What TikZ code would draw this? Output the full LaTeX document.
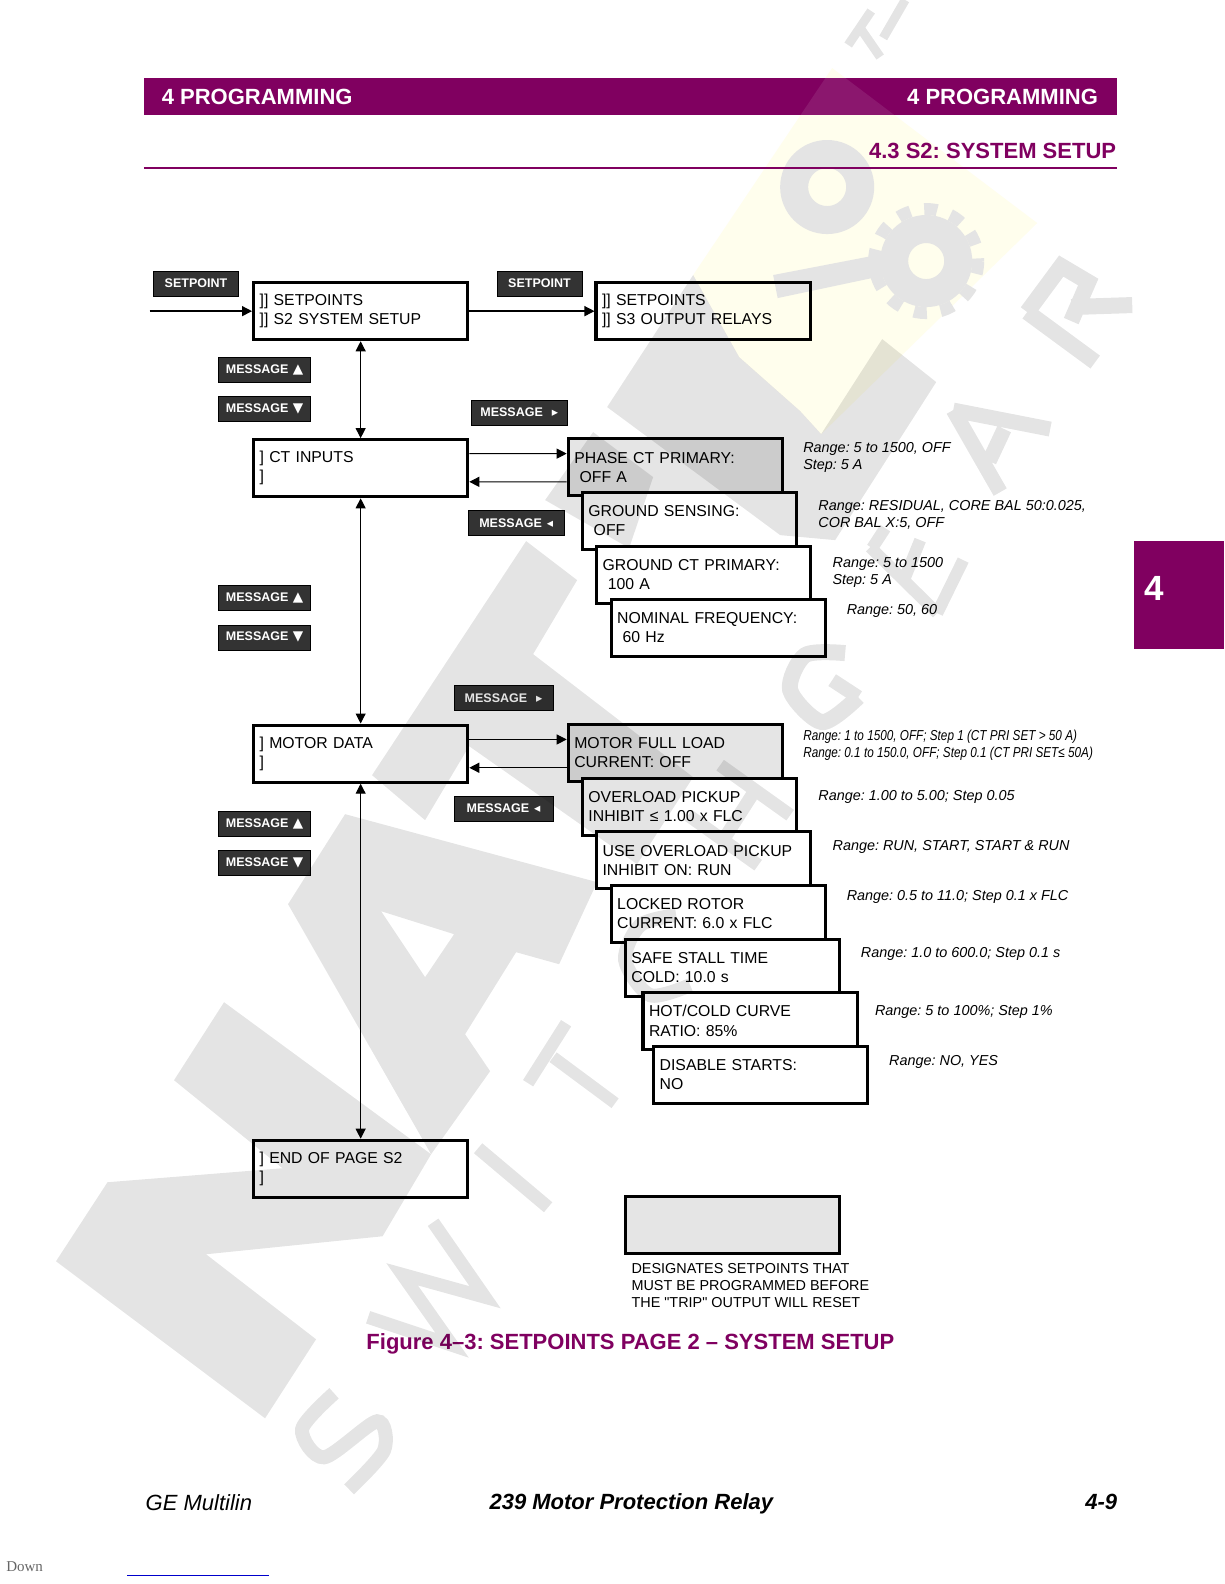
\documentclass[tikz,border=0pt]{standalone}
\usepackage{fontspec}
\setmainfont{Liberation Sans}
\newfontfamily\symfont{DejaVu Sans}
\newfontfamily\narrowfont[FakeStretch=0.815]{Liberation Sans}
\newfontfamily\downfont{Liberation Serif}
\usepackage{xcolor}
\usetikzlibrary{arrows.meta}
\frenchspacing
\definecolor{gepurple}{HTML}{800060}
\definecolor{btngray}{HTML}{333333}
\definecolor{wmgray}{HTML}{E4E4E4}
\tikzset{
    lcdbox/.style={rectangle, draw=black, line width=3.2pt, fill=white, minimum width=214pt, minimum height=57pt, inner sep=0pt, text width=202pt, align=left, font=\fontsize{15.8}{19.2}\selectfont},
    lcdgray/.style={lcdbox, fill=gray!20},
    keybtn/.style={rectangle, draw=black, line width=0.6pt, fill=btngray, text=white, minimum height=25pt, inner sep=0pt, font=\fontsize{12.5}{14}\selectfont\bfseries},
    rangetext/.style={anchor=west, inner sep=0pt, align=left, font=\fontsize{14.4}{17.2}\selectfont\itshape},
    arrow/.style={line width=1pt, {Triangle[length=10pt,width=10pt]}-{Triangle[length=10pt,width=10pt]}},
    oneway/.style={line width=1.3pt, -{Triangle[length=10pt,width=10pt]}},
    headtext/.style={inner sep=0pt, text=white, font=\fontsize{22}{26}\selectfont\bfseries},
    foottext/.style={inner sep=0pt, font=\fontsize{22}{26}\selectfont\bfseries\itshape},
    wmstroke/.style={draw=black, line width=14pt, fill=none}
}
\newcommand{\keyup}{MESSAGE\hspace{4.5pt}{\symfont\fontsize{13.5}{14}\selectfont ▲}}
\newcommand{\keydn}{MESSAGE\hspace{4.5pt}{\symfont\fontsize{13.5}{14}\selectfont ▼}}
\newcommand{\keyrt}{MESSAGE\hspace{9pt}{\symfont ▸}\hspace{7pt}}
\newcommand{\keylf}{MESSAGE\hspace{5pt}{\symfont ◂}\hspace{12pt}}
\begin{document}
\begin{tikzpicture}[x=1.01pt, y=-1.01pt]
    \useasboundingbox (0,0) rectangle (1212,1568);
    \fill[white] (0,0) rectangle (1212,1568);

    % watermark under the page, full size pixel coordinates
    \begin{scope}[scale=0.9901]
        \fill[yellow, opacity=0.07] (832,68) -- (1037,223) -- (821,434) -- (800,411) -- (739,357) -- (693,275) -- cycle;
        \draw[wmgray, line width=28pt] (827,187) circle (33);
        \draw[wmgray, line width=28pt] (926,261) circle (32);
        \draw[wmgray, line width=12pt, dash pattern=on 13pt off 14pt] (926,261) circle (52);
        \fill[wmgray] (773,275) -- (882,254) -- (886,275) -- (777.5,298) -- cycle;
    \end{scope}

    % page header and footer
    \fill[gepurple] (142.5,77) rectangle (1106,114);
    \begin{scope}[scale=0.9901]
        \clip (700,78) rectangle (900,115);
        \fill[white, opacity=0.09] (832,68) -- (1037,223) -- (693,275) -- cycle;
    \end{scope}
    \fill[gepurple] (1123,536) rectangle (1212,642);
    \draw[gepurple, line width=1.8pt] (142.5,166) -- (1106,166);
    \node (headleft) [headtext, anchor=west] at (160,95.5) {4 PROGRAMMING};
    \node (headright) [headtext, anchor=east] at (1087,95.5) {4 PROGRAMMING};
    \node (section) [inner sep=0pt, anchor=east, text=gepurple, font=\fontsize{22}{26}\selectfont\bfseries] at (1105,149) {4.3 S2: SYSTEM SETUP};
    \node (tabnum) [inner sep=0pt, text=white, font=\fontsize{35}{38}\selectfont\bfseries] at (1143,583) {4};
    \node (foot1) [inner sep=0pt, anchor=west, font=\fontsize{22}{26}\selectfont\itshape] at (144,1487) {GE Multilin};
    \node (foot2) [foottext] at (625,1489) {239 Motor Protection Relay};
    \node (foot3) [foottext, anchor=east] at (1106,1487) {4-9};
    \node (down) [inner sep=0pt, anchor=west, text=black!60, font=\fontsize{15}{17}\downfont] at (6,1551) {Down};
    \draw[blue!80!black, line width=1pt] (126,1560) -- (266,1560);

    % top level
    \node (s2) [lcdbox] at (357,308) {]] SETPOINTS\\]] S2 SYSTEM SETUP};
    \node (s3) [lcdbox, fill=none] at (696,308) {]] SETPOINTS\\]] S3 OUTPUT RELAYS};
    \node (ct) [lcdbox] at (357,463.5) {] CT INPUTS\\]};
    \node (motor) [lcdbox] at (357,746) {] MOTOR DATA\\]};
    \node (endpage) [lcdbox] at (357,1157) {] END OF PAGE S2\\]};

    % CT stack
    \node (phase) [lcdgray] at (668.5,462.5) {PHASE CT PRIMARY:\\ \ OFF A};
    \node (sensing) [lcdbox] at (682.5,515.5) {GROUND SENSING:\\ \ OFF};
    \node (groundct) [lcdbox] at (696.5,569) {GROUND CT PRIMARY:\\ \ 100 A};
    \node (nominal) [lcdbox] at (711,621.5) {NOMINAL FREQUENCY:\\ \ 60 Hz};

    % motor stack
    \node (fullload) [lcdgray] at (668.5,745) {MOTOR FULL LOAD\\CURRENT: OFF};
    \node (overload) [lcdbox] at (682.5,798.5) {OVERLOAD PICKUP\\INHIBIT ≤ 1.00 x FLC};
    \node (inhibit) [lcdbox] at (696.5,851.5) {USE OVERLOAD PICKUP\\INHIBIT ON: RUN};
    \node (locked) [lcdbox] at (711,904.5) {LOCKED ROTOR\\CURRENT: 6.0 x FLC};
    \node (stall) [lcdbox] at (725,958) {SAFE STALL TIME\\COLD: 10.0 s};
    \node (curve) [lcdbox] at (742.5,1010.5) {HOT/COLD CURVE\\RATIO: 85\%};
    \node (disable) [lcdbox] at (753,1064) {DISABLE STARTS:\\NO};

    % legend
    \node (legend) [lcdgray] at (725,1213) {};
    \node (legendtext) [inner sep=0pt, anchor=west, align=left, font=\fontsize{14.4}{17.2}\selectfont] at (625,1272.5) {DESIGNATES SETPOINTS THAT\\MUST BE PROGRAMMED BEFORE\\THE \textquotedbl TRIP\textquotedbl\ OUTPUT WILL RESET};

    % keys
    \node (key1) [keybtn, minimum width=85pt] at (194,280.5) {SETPOINT};
    \node (key2) [keybtn, minimum width=85pt] at (534,280.5) {SETPOINT};
    \node (up1) [keybtn, minimum width=92pt] at (262,366.5) {\keyup};
    \node (dn1) [keybtn, minimum width=92pt] at (262,404.5) {\keydn};
    \node (rt1) [keybtn, minimum width=96pt] at (514,408.5) {\keyrt};
    \node (lf1) [keybtn, minimum width=96pt] at (511,517.5) {\keylf};
    \node (up2) [keybtn, minimum width=92pt] at (262,592) {\keyup};
    \node (dn2) [keybtn, minimum width=92pt] at (262,631) {\keydn};
    \node (rt2) [keybtn, minimum width=99pt] at (498.5,691) {\keyrt};
    \node (lf2) [keybtn, minimum width=99pt] at (498.5,800.5) {\keylf};
    \node (up3) [keybtn, minimum width=92pt] at (262,815.5) {\keyup};
    \node (dn3) [keybtn, minimum width=92pt] at (262,854.5) {\keydn};

    % connectors
    \coordinate (entry) at (148,308);
    \draw [oneway] (entry) -- (s2);
    \draw [oneway] (s2) -- (s3);
    \draw [arrow] (s2) -- (ct);
    \draw [arrow] (ct) -- (motor);
    \draw [arrow] (motor) -- (endpage);
    \draw [oneway, line width=1pt] ([yshift=14.6pt]ct.east) -- ([yshift=13.6pt]phase.west);
    \draw [oneway, line width=1pt] ([yshift=-14.6pt]phase.west) -- ([yshift=-13.6pt]ct.east);
    \draw [oneway, line width=1pt] ([yshift=14.14pt]motor.east) -- ([yshift=13.13pt]fullload.west);
    \draw [oneway] ([yshift=-15.15pt]fullload.west) -- ([yshift=-14.14pt]motor.east);

    % ranges
    \node (r1) [rangetext] at (795,453) {Range: 5 to 1500, OFF\\Step: 5 A};
    \node (r2) [rangetext] at (810,509.5) {Range: RESIDUAL, CORE BAL 50:0.025,\\COR BAL X:5, OFF};
    \node (r3) [rangetext] at (824,566.5) {Range: 5 to 1500\\Step: 5 A};
    \node (r4) [rangetext] at (838,605) {Range: 50, 60};
    \node (r5) [rangetext, font=\fontsize{14.4}{17.2}\narrowfont\itshape] at (795,737.5) {Range: 1 to 1500, OFF; Step 1 (CT PRI SET > 50 A)\\Range: 0.1 to 150.0, OFF; Step 0.1 (CT PRI SET≤ 50A)};
    \node (r6) [rangetext] at (810,789) {Range: 1.00 to 5.00; Step 0.05};
    \node (r7) [rangetext] at (824,838.5) {Range: RUN, START, START \& RUN};
    \node (r8) [rangetext] at (838,888) {Range: 0.5 to 11.0; Step 0.1 x FLC};
    \node (r9) [rangetext] at (852,944.5) {Range: 1.0 to 600.0; Step 0.1 s};
    \node (r10) [rangetext] at (866,1002) {Range: 5 to 100\%; Step 1\%};
    \node (r11) [rangetext] at (880,1051.5) {Range: NO, YES};

    \node (caption) [inner sep=0pt, text=gepurple, font=\fontsize{22}{25}\selectfont\bfseries] at (624,1330.5) {Figure 4–3: SETPOINTS PAGE 2 – SYSTEM SETUP};

    % watermark over the boxes
    \begin{scope}[scale=0.9901, transparency group, opacity=0.105]
        % block letters
        \fill (224,1002) -- (431,1154) -- (382.5,1236) -- (206,1254) -- (316,1339) -- (265,1418) -- (56,1261) -- (107.5,1182) -- (282.5,1168) -- (174,1080) -- cycle;
        \fill[even odd rule] (345,814) -- (597,882) -- (559,964) -- (516,952) -- (465,1034) -- (490,1071) -- (431,1154) -- (288,904) -- cycle (381,911) -- (454,934) -- (425,977) -- cycle;
        \fill (526,541) -- (577,580) -- (533,654) -- (693,777) -- (637,864) -- (469,746) -- (425,820) -- (372,775) -- cycle;
        \fill (593,432) -- (653,477) -- (629,548) -- (545,500) -- cycle;
        \fill (693,275) -- (739,357) -- (800,411) -- (821,434) -- (882,339) -- (936,382) -- (835,540) -- (780,535) -- (607,407) -- cycle;
        % thin letters
        \draw[wmstroke] plot[smooth] coordinates {(334,1393) (302,1429) (324,1457) (377,1421) (384,1450) (349,1489)};
        \draw[wmstroke, line width=13pt] (433,1222) -- (485,1297) -- (402,1274) -- (452,1345) -- (368,1317);
        \draw[wmstroke, line width=13pt] (478,1148) -- (548,1207);
        \draw[wmstroke, line width=12pt] (566,1023) -- (528,1083) (553,1057) -- (615,1103);
        \draw[wmstroke, line width=14pt] plot[smooth] coordinates {(676,915) (640,925) (625,960) (650,995) (690,985)};
        \draw[wmstroke, line width=13pt] (720,765) -- (790,815) (688,815) -- (758,865) (755,790) -- (723,840);
        \draw[wmstroke, line width=16pt] plot[smooth] coordinates {(845,653) (805,655) (790,690) (822,722) (858,697)};
        \draw[wmstroke, line width=14pt] (858,697) -- (832,680);
        \draw[wmstroke, line width=12pt] (870,547) -- (937,613) (905,577) -- (920,540) (937,613) -- (963,560) (872,548) -- (885,528);
        \draw[wmstroke, line width=15pt] (953,410) -- (1000,492) (953,410) -- (1050,429) (989,461) -- (1004,429);
        \draw[wmstroke, line width=16pt] (1027,312) -- (1095,362) (1027,312) -- (1061,266) -- (1088,282) -- (1071,321) (1071,307) -- (1132,305);
        \draw[wmstroke, line width=9pt] (848,45) -- (871,11) (860,28) -- (880,57) (883,38) -- (905,0);
    \end{scope}
\end{tikzpicture}
\end{document}
